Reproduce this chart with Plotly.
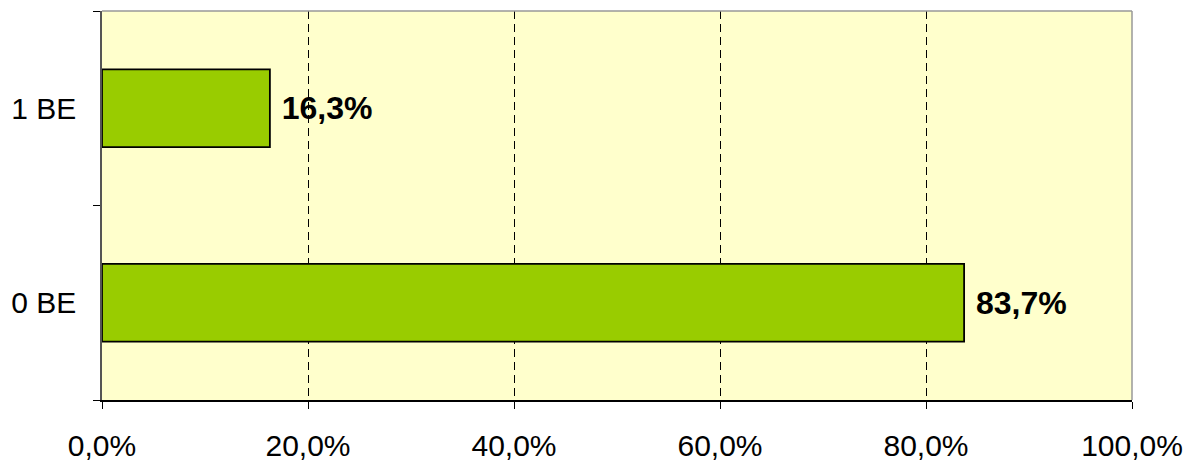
import plotly.graph_objects as go

categories = ["0 BE", "1 BE"]
values = [83.7, 16.3]
x_ticks = [0, 20, 40, 60, 80, 100]
x_tick_labels = ["0,0%", "20,0%", "40,0%", "60,0%", "80,0%", "100,0%"]

fig = go.Figure()
fig.add_trace(go.Bar(
    y=categories, x=values, orientation="h",
    marker=dict(color="#99CC00", line=dict(color="#000000", width=1.8)),
    width=0.4,
    text=values, texttemplate=" <b>%{x:.1f}%</b>", textposition="outside",
    textfont=dict(family="Liberation Sans, Arial", size=32, color="#000000"),
    cliponaxis=False,
))

fig.update_layout(
    width=1187, height=455,
    margin=dict(l=94, r=63, t=3, b=63, autoexpand=False),
    paper_bgcolor="#FFFFFF", plot_bgcolor="#FFFFCC",
    separators=",.",
    showlegend=False,
    font=dict(family="Liberation Sans, Arial", size=30, color="#000000"),
    xaxis=dict(range=[0, 100], tickvals=x_ticks, ticktext=x_tick_labels,
               showgrid=True, gridcolor="#000000", griddash="8px,5px", gridwidth=1,
               showline=True, linecolor="#000000", linewidth=1.5,
               ticks="outside", ticklen=7, tickcolor="#000000",
               ticklabelstandoff=11, zeroline=False, automargin=False,
               tickfont=dict(size=30)),
    yaxis=dict(type="category", categoryorder="array", categoryarray=categories,
               range=[-0.5, 1.5], tickson="boundaries",
               showgrid=False, showline=True, linecolor="#555555", linewidth=1.5,
               ticks="outside", ticklen=7, tickcolor="#000000", automargin=False,
               ticklabelstandoff=18, tickfont=dict(size=30)),
    shapes=[
        dict(type="line", xref="paper", yref="paper", x0=0, x1=1, y0=1, y1=1,
             line=dict(color="#999999", width=1.5)),
        dict(type="line", xref="paper", yref="paper", x0=1, x1=1, y0=0, y1=1,
             line=dict(color="#999999", width=1.5)),
    ],
)

fig.write_html("out.html")
